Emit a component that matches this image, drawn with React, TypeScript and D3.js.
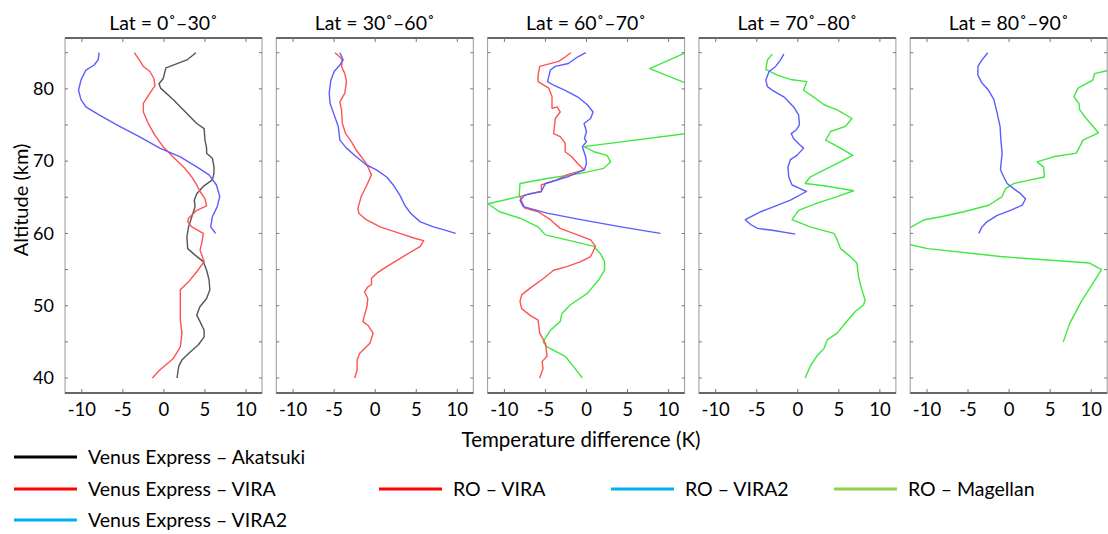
import React from "react";
import * as d3 from "d3";

// [temperature difference (K), altitude (km)]
type Pt = [number, number];

const PANEL_TITLES = ["Lat = 0˚–30˚", "Lat = 30˚–60˚", "Lat = 60˚–70˚", "Lat = 70˚–80˚", "Lat = 80˚–90˚"];
const X_TICKS = [-10, -5, 0, 5, 10];
const Y_TICKS = [40, 45, 50, 55, 60, 65, 70, 75, 80, 85];
const Y_LABELS = [40, 50, 60, 70, 80];

// Lat 0-30
const p1Akatsuki: Pt[] = [
  [3.9, 85], [2.8, 84], [0.25, 82.9], [-0.1, 81.4], [-0.6, 80.7], [-0.4, 80.1], [1.15, 78.5],
  [2.8, 76.6], [4.0, 75.2], [4.9, 74.5], [5.0, 72.9], [5.2, 71.8], [5.2, 71.1], [5.9, 70.4],
  [6.1, 69.2], [6.1, 68.3], [5.9, 67.4], [4.8, 66.5], [4.0, 65.5], [3.7, 64.6], [3.8, 63.7],
  [3.4, 62.3], [3.0, 60.9], [2.8, 59.5], [2.9, 57.9], [3.8, 57.0], [4.8, 56.1], [5.2, 54.9],
  [5.5, 53.6], [5.6, 52.2], [5.2, 51.0], [4.4, 49.9], [4.0, 48.7], [4.4, 47.8], [4.9, 46.6],
  [4.9, 45.7], [4.2, 44.6], [3.0, 43.4], [2.2, 42.5], [1.8, 41.6], [1.6, 40],
];
const p1Vira: Pt[] = [
  [-3.6, 85], [-3.0, 84], [-2.5, 83.1], [-1.7, 82.4], [-1.2, 81.4], [-1.1, 80.4], [-1.7, 79.4],
  [-2.5, 78], [-2.5, 76.8], [-1.9, 75.2], [-1.1, 73.6], [-0.1, 72.0], [1.1, 70.6], [2.4, 69.2],
  [3.4, 67.8], [4.0, 66.7], [4.4, 65.8], [5.0, 64.8], [5.2, 63.8], [4.0, 63.2], [3.0, 62.1],
  [2.9, 61.6], [3.4, 60.9], [4.8, 60.0], [4.6, 58.6], [4.4, 57.7], [4.9, 56.1], [4.0, 54.7],
  [3.0, 53.3], [2.0, 52.2], [2.0, 50.8], [2.0, 48.0], [2.2, 46.2], [2.0, 44.3], [1.15, 42.7],
  [-0.5, 41.1], [-1.4, 40],
];
const p1Vira2: Pt[] = [
  [-7.9, 85], [-8.0, 84], [-8.5, 83.3], [-9.5, 82.6], [-10.1, 81.2], [-10.4, 79.8], [-10.1, 78.5],
  [-9.5, 77.5], [-7.9, 76.4], [-5.4, 74.8], [-3.0, 73.4], [-0.5, 71.8], [2.0, 70.6], [4.0, 69.2],
  [5.5, 68.1], [6.4, 66.7], [6.8, 65.1], [6.5, 63.7], [5.9, 62.3], [5.7, 60.9], [6.3, 60.0],
];

// Lat 30-60
const p2Vira: Pt[] = [
  [-4.9, 85], [-4.3, 84.4], [-4.0, 84], [-4.1, 83.1], [-3.7, 82.1], [-3.5, 81], [-3.7, 79.4],
  [-4.3, 78.2], [-4.1, 77.1], [-4.0, 75.2], [-3.6, 73.8], [-2.9, 72.7], [-2.3, 71.5], [-1.7, 70.6],
  [-1.1, 69.7], [-0.45, 68.1], [-1.1, 66.5], [-1.7, 65.1], [-2.1, 63.5], [-2.0, 62.8], [-1.1, 61.9],
  [0.6, 60.9], [3.0, 60.0], [4.9, 59.3], [5.9, 59.0], [5.5, 58.2], [3.4, 56.8], [1.4, 55.4],
  [0.2, 54.5], [-0.45, 53.8], [-0.45, 52.9], [-0.9, 52.6], [-1.3, 51.9], [-0.9, 51.0], [-1.0, 49.9],
  [-1.3, 48.7], [-1.5, 47.8], [-0.9, 47.3], [-0.25, 46.2], [-0.65, 44.8], [-1.9, 43.4], [-2.2, 42.5],
  [-2.2, 41.1], [-2.5, 40],
];
const p2Vira2: Pt[] = [
  [-4.3, 85], [-3.9, 84], [-4.3, 83.3], [-5.0, 82.4], [-5.4, 81.2], [-5.6, 79.4], [-5.5, 78],
  [-5.0, 76.4], [-4.5, 74.8], [-4.3, 72.9], [-3.5, 71.8], [-2.3, 70.6], [-1.1, 69.5], [0.15, 68.8],
  [1.4, 67.8], [2.2, 66.7], [3.0, 65.3], [3.6, 63.9], [4.3, 62.8], [5.5, 61.6], [7.1, 60.9],
  [8.4, 60.5], [9.8, 60.0],
];

// Lat 60-70
const p3Vira: Pt[] = [
  [-1.9, 85], [-2.6, 84.4], [-3.4, 83.8], [-5.7, 83.1], [-5.9, 81.9], [-5.9, 81], [-4.6, 80.1],
  [-4.2, 78.9], [-4.2, 77.3], [-3.6, 77.5], [-3.2, 76.8], [-3.8, 75.9], [-4.0, 73.8], [-3.2, 73.4],
  [-2.6, 72.5], [-2.6, 71.3], [-1.8, 70.6], [-1.1, 69.7], [-0.5, 69.0], [-0.3, 68.8], [-2.4, 68.1],
  [-3.6, 67.4], [-5.5, 66.7], [-5.5, 65.8], [-6.9, 65.5], [-8.1, 65.1], [-7.9, 64.4], [-7.5, 63.5],
  [-5.9, 63.0], [-4.4, 61.9], [-3.2, 60.7], [-1.1, 59.8], [0.5, 59.1], [1.1, 58.2], [0.5, 56.8],
  [-0.7, 56.1], [-2.4, 55.4], [-4.0, 54.9], [-5.2, 53.8], [-6.9, 52.4], [-7.9, 51.5], [-8.1, 50.6],
  [-7.9, 49.6], [-6.9, 48.7], [-5.9, 48.0], [-5.7, 46.2], [-5.0, 44.8], [-4.8, 43.0], [-5.4, 42.3],
  [-5.3, 41.3], [-5.7, 40],
];
const p3Vira2: Pt[] = [
  [-0.1, 85], [-1.1, 84.4], [-2.2, 83.5], [-3.8, 83.1], [-4.4, 82.6], [-4.6, 81.7], [-4.75, 81.0],
  [-4.0, 80.5], [-2.6, 79.8], [-1.1, 78.9], [0.1, 77.8], [0.8, 76.8], [0.5, 75.9], [-0.3, 75.2],
  [0, 74.1], [-0.25, 73.1], [0, 72.7], [-0.5, 72.0], [-0.1, 70.6], [0, 69.7], [-0.25, 68.8],
  [-2.4, 67.8], [-5.0, 66.9], [-5.5, 65.8], [-7.5, 65.3], [-8.1, 64.6], [-7.7, 63.7], [-4.8, 62.8],
  [-0.7, 61.9], [4.2, 60.9], [9.0, 60.0],
];
const p3Magellan: Pt[] = [
  [12.1, 85], [7.7, 82.8], [12.1, 80.8], [16, 77.3], [12.1, 73.8], [-0.3, 72.0], [0.9, 71.3],
  [2.5, 70.8], [2.95, 69.9], [2.1, 69.0], [-0.7, 68.3], [-4.8, 67.6], [-8.1, 66.9], [-8.2, 65.1],
  [-12.0, 64.1], [-10.6, 63.0], [-8.1, 62.1], [-5.9, 60.9], [-5.0, 59.8], [-2.4, 59.1], [0.9, 58.2],
  [1.7, 57.2], [2.2, 56.1], [2.2, 54.9], [1.5, 53.6], [0.1, 51.7], [-2.0, 50.1], [-3.0, 48.9],
  [-3.2, 47.8], [-4.4, 46.6], [-5.3, 45.0], [-4.8, 44.3], [-2.6, 43.0], [-1.6, 41.6], [-0.5, 40],
];

// Lat 70-80
const p4Vira2: Pt[] = [
  [-1.7, 84.8], [-2.1, 84], [-2.7, 83.1], [-3.5, 82.4], [-3.9, 81.2], [-3.7, 80.3], [-3.1, 79.8],
  [-1.7, 78.9], [-0.5, 77.5], [0.1, 76.4], [0.2, 75.0], [-0.2, 74.3], [-0.8, 73.8], [-0.5, 73.1],
  [0.3, 72.2], [0.7, 71.8], [-0.1, 70.8], [-0.9, 70.2], [-1.2, 69.2], [-1.1, 67.8], [-0.7, 66.7],
  [0.3, 66.2], [1.05, 65.8], [-0.9, 64.6], [-2.9, 63.7], [-4.5, 63.0], [-6.4, 61.9], [-5.7, 61.2],
  [-4.9, 60.7], [-2.9, 60.4], [-0.3, 59.9],
];
const p4Magellan: Pt[] = [
  [-3.1, 84.8], [-3.7, 84], [-3.9, 82.7], [-2.5, 81.9], [-0.9, 81.3], [1.1, 81.0], [0.7, 79.8],
  [1.9, 78.9], [3.2, 77.8], [4.8, 77.1], [6.6, 75.9], [5.8, 74.8], [4.0, 74.1], [3.4, 72.9],
  [5.2, 71.8], [6.7, 70.8], [4.8, 69.7], [2.75, 68.5], [1.5, 67.8], [0.9, 66.9], [3.2, 66.6],
  [6.8, 65.9], [4.8, 65.1], [2.35, 64.2], [0.1, 63.2], [-0.7, 61.9], [1.5, 60.9], [4.4, 60.0],
  [4.8, 59.1], [5.2, 57.9], [6.2, 57.0], [7.2, 55.9], [7.4, 54.0], [7.8, 52.2], [8.2, 50.8],
  [8.0, 50.1], [7.0, 49.2], [5.8, 47.6], [4.8, 46.2], [3.6, 45.3], [3.2, 44.1], [2.3, 43.0],
  [1.5, 41.6], [0.9, 40],
];

// Lat 80-90
const p5Vira2: Pt[] = [
  [-2.6, 85], [-3.3, 84], [-3.8, 83.1], [-3.8, 81.9], [-3.3, 80.8], [-2.5, 79.8], [-1.85, 78.5],
  [-1.45, 76.6], [-1.1, 74.8], [-1.0, 72.9], [-0.85, 71.1], [-1.0, 69.5], [-1.05, 68.8], [-0.65, 67.8],
  [-0.24, 66.9], [0.56, 66.2], [1.4, 65.5], [2.0, 64.8], [1.6, 63.9], [0.16, 63.2], [-1.45, 62.5],
  [-2.7, 61.6], [-3.3, 60.9], [-3.7, 60.0],
];
const p5Magellan: Pt[] = [
  [12.5, 82.6], [11.9, 82.5], [10.4, 82.1], [10.2, 81.2], [8.4, 80.1], [7.9, 78.9], [8.5, 78],
  [8.6, 77.1], [9.4, 75.9], [10.9, 73.9], [9.0, 72.9], [8.2, 71.1], [5.4, 70.6], [3.4, 69.9],
  [4.2, 69.2], [4.3, 67.8], [2.6, 67.4], [0.56, 66.9], [-0.44, 66.2], [-0.85, 65.1], [-2.5, 63.9],
  [-5.5, 63.0], [-8.3, 62.3], [-10.3, 61.9], [-11.9, 60.9], [-14, 59.6], [-11.9, 58.4], [-9.9, 57.9],
  [-1.05, 56.8], [9.8, 55.9], [11.25, 55.0], [10.2, 53.1], [8.8, 50.6], [7.4, 47.6], [6.6, 45.0],
];

const LINE_COLORS = { akatsuki: "#555555", vira: "#ff5252", vira2: "#5c5cff", magellan: "#40e840" };

const PANEL_SERIES: { data: Pt[]; color: string }[][] = [
  [
    { data: p1Akatsuki, color: LINE_COLORS.akatsuki },
    { data: p1Vira, color: LINE_COLORS.vira },
    { data: p1Vira2, color: LINE_COLORS.vira2 },
  ],
  [
    { data: p2Vira, color: LINE_COLORS.vira },
    { data: p2Vira2, color: LINE_COLORS.vira2 },
  ],
  [
    { data: p3Magellan, color: LINE_COLORS.magellan },
    { data: p3Vira, color: LINE_COLORS.vira },
    { data: p3Vira2, color: LINE_COLORS.vira2 },
  ],
  [
    { data: p4Magellan, color: LINE_COLORS.magellan },
    { data: p4Vira2, color: LINE_COLORS.vira2 },
  ],
  [
    { data: p5Magellan, color: LINE_COLORS.magellan },
    { data: p5Vira2, color: LINE_COLORS.vira2 },
  ],
];

const LEGEND_ITEMS = [
  { label: "Venus Express – Akatsuki", color: "#000000", x: 14, y: 457 },
  { label: "Venus Express – VIRA", color: "#ff0000", x: 14, y: 489 },
  { label: "Venus Express – VIRA2", color: "#00b0f0", x: 14, y: 520 },
  { label: "RO – VIRA", color: "#ff0000", x: 379, y: 489 },
  { label: "RO – VIRA2", color: "#00b0f0", x: 611, y: 489 },
  { label: "RO – Magellan", color: "#92d050", x: 834, y: 489 },
];

const FONT = "Lato, 'Open Sans', sans-serif";
const W = 1108;
const H = 534;
const TOP = 38;
const BOTTOM = 393;
const PW = 197;

export default function App() {
  const y = d3.scaleLinear().domain([40, 85]).range([378, 52.7]);

  return (
    <svg width={W} height={H} style={{ position: "absolute", left: 0, top: 0, background: "#fff" }}
      fontFamily={FONT}>
      <defs>
        {PANEL_TITLES.map((_, i) => {
          const left = 65 + i * 211.3;
          return (
            <clipPath id={`clip${i}`} key={i}>
              <rect x={left} y={TOP} width={PW} height={BOTTOM - TOP} />
            </clipPath>
          );
        })}
      </defs>

      {PANEL_TITLES.map((title, i) => {
        const left = 65 + i * 211.3;
        const x = d3.scaleLinear().domain([-10, 10]).range([left + 16.8, left + 181]);
        const line = d3.line<Pt>().x((d) => x(d[0])).y((d) => y(d[1]));
        return (
          <g key={i}>
            <text x={left + PW / 2} y={30} textAnchor="middle" fontSize={19.5} fill="#000">
              {title}
            </text>
            <g clipPath={`url(#clip${i})`}>
              {PANEL_SERIES[i].map((s, j) => (
                <path key={j} d={line(s.data) || ""} fill="none" stroke={s.color}
                  strokeWidth={1.4} strokeLinejoin="round" />
              ))}
            </g>
            {/* frame */}
            <rect x={left} y={TOP} width={PW} height={BOTTOM - TOP} fill="none" stroke="#9a9a9a" strokeWidth={1} />
            <line x1={left} x2={left + PW} y1={TOP} y2={TOP} stroke="#666" strokeWidth={2} />
            <line x1={left} x2={left + PW} y1={BOTTOM} y2={BOTTOM} stroke="#666" strokeWidth={2} />
            {X_TICKS.map((t) => (
              <g key={t}>
                <line x1={x(t)} x2={x(t)} y1={TOP} y2={TOP + 4} stroke="#777" />
                <line x1={x(t)} x2={x(t)} y1={BOTTOM} y2={BOTTOM - 4} stroke="#777" />
                <text x={x(t)} y={416} textAnchor="middle" fontSize={18.5} fill="#000">
                  {t}
                </text>
              </g>
            ))}
            {Y_TICKS.map((t) => (
              <g key={t}>
                <line x1={left} x2={left + 3} y1={y(t)} y2={y(t)} stroke="#777" />
                <line x1={left + PW} x2={left + PW - 3} y1={y(t)} y2={y(t)} stroke="#777" />
              </g>
            ))}
          </g>
        );
      })}

      {Y_LABELS.map((t) => (
        <text key={t} x={54} y={y(t)} dy="0.35em" textAnchor="end" fontSize={18} fill="#000">
          {t}
        </text>
      ))}
      <text transform={`translate(28,200) rotate(-90)`} textAnchor="middle" fontSize={20} fill="#000">
        Altitude (km)
      </text>
      <text x={581} y={447} textAnchor="middle" fontSize={20.5} fill="#000">
        Temperature difference (K)
      </text>

      {LEGEND_ITEMS.map((d) => (
        <g key={d.label}>
          <line x1={d.x} x2={d.x + 63} y1={d.y} y2={d.y} stroke={d.color} strokeWidth={3} />
          <text x={d.x + 74} y={d.y} dy="0.35em" fontSize={19.5} fill="#000">
            {d.label}
          </text>
        </g>
      ))}
    </svg>
  );
}
